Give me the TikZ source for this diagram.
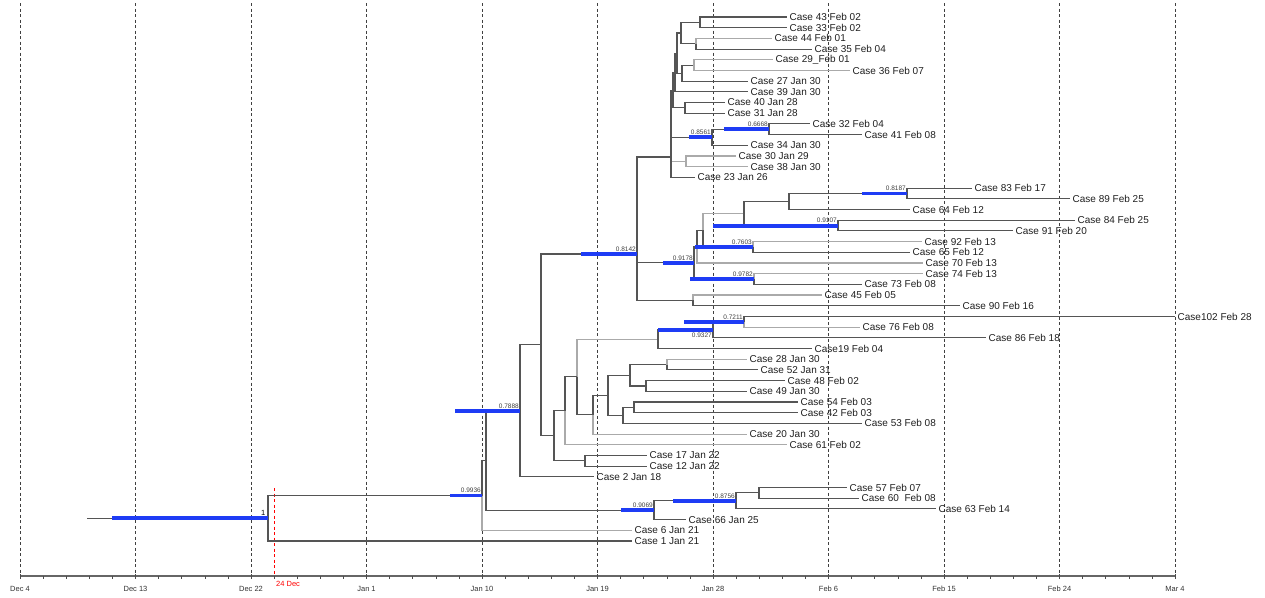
\documentclass[tikz,border=0pt]{standalone}
\usepackage{fontspec}
\setmainfont{Liberation Sans}
\definecolor{hpdblue}{RGB}{30,60,245}
\definecolor{brdark}{RGB}{85,85,85}
\definecolor{brlight}{RGB}{170,170,170}
\newcommand\leafnode[6][dk]{\node[lab] (#2) at (#5,{17+10.694*#4}) {#6};\draw[#1] (#3) |- (#2.west);}
\newcommand\tbranch[3][dk]{\draw[#1] (#2) |- (#3);}
\newcommand\hpdbar[3]{\draw[hpd] (#1) -- ++(-#2,0);\node[pp,anchor=south east] at ([xshift=-0.5pt,yshift=2pt]#1) {#3};}
\begin{document}
\begin{tikzpicture}[x=1pt,y=-1pt,
  dk/.style={draw=brdark, line width=1.1pt},
  lt/.style={draw=brlight, line width=1.1pt},
  hpd/.style={draw=hpdblue, line width=3.8pt},
  lab/.style={anchor=west, inner sep=2.5pt, font=\fontsize{10}{12}\selectfont, text=black!88},
  pp/.style={font=\fontsize{6.5}{7}\selectfont, text=black!75, inner sep=0.5pt},
  gridline/.style={draw=black!75, line width=0.8pt, dash pattern=on 3pt off 2.5pt},
  axl/.style={font=\fontsize{7.5}{8}\selectfont, text=black!80, inner sep=0pt}]
\useasboundingbox (0,0) rectangle (1265,597);
% grid lines
\foreach \k in {0,...,10} \draw[gridline] ({20+115.5*\k},3) -- ({20+115.5*\k},576);
\draw[red, line width=0.8pt, dash pattern=on 3pt off 2.5pt] (274,488) -- (274,576);
% axis
\draw[black!60, line width=1.8pt] (20,576) -- (1175,576);
\foreach \m in {0,...,50} \draw[black!70, line width=0.6pt] ({20+23.1*\m},576) -- ++(0,2.5);
\foreach \k in {0,...,10} \draw[black!70, line width=0.8pt] ({20+115.5*\k},574) -- ++(0,4.5);
\foreach \k/\t in {0/Dec 4,1/Dec 13,2/Dec 22,3/Jan 1,4/Jan 10,5/Jan 19,6/Jan 28,7/Feb 6,8/Feb 15,9/Feb 24,10/Mar 4}
  \node[axl] at ({20+115.5*\k},589) {\t};
\node[axl, text=red, anchor=west] at (276,584) {24 Dec};
% internal nodes
\coordinate (stub) at (87,518.2);
\coordinate (root) at (268,518.2);
\coordinate (A) at (482,495.5);
\coordinate (B) at (486,460.6);
\coordinate (C) at (520,410.9);
\coordinate (D) at (541,344.9);
\coordinate (E) at (637,254);
\coordinate (nG) at (671,157);
\coordinate (nF) at (673,90.2);
\coordinate (nD) at (675,72.5);
\coordinate (nC) at (677,53.1);
\coordinate (nA) at (681,33);
\coordinate (n4333) at (700,22.3);
\coordinate (n4435) at (696,43.7);
\coordinate (nB) at (682,73.2);
\coordinate (n2936) at (694,65.1);
\coordinate (nE) at (685,107.9);
\coordinate (n8561) at (712,137.2);
\coordinate (n6668) at (769,129.3);
\coordinate (n3038) at (686,161.3);
\coordinate (H) at (694,262.8);
\coordinate (N) at (697,246.6);
\coordinate (M) at (703,230.2);
\coordinate (L) at (744,213.5);
\coordinate (K) at (789,201.5);
\coordinate (n8187) at (907,193.4);
\coordinate (n9107) at (838,225.6);
\coordinate (n7603) at (753,247);
\coordinate (n9782) at (754,279);
\coordinate (n4590) at (693,300.4);
\coordinate (F) at (554,435.8);
\coordinate (P) at (565,410.8);
\coordinate (Q) at (577,376.9);
\coordinate (R) at (658,339.1);
\coordinate (n9327) at (713,329.8);
\coordinate (n7211) at (744,321.8);
\coordinate (S) at (593,414.7);
\coordinate (T) at (608,395.3);
\coordinate (U) at (630,375.3);
\coordinate (V) at (623,415.4);
\coordinate (n2852) at (667,364.6);
\coordinate (n4849) at (646,386);
\coordinate (n5442) at (634,407.4);
\coordinate (n1712) at (585,460.8);
\coordinate (n9069) at (654,510.3);
\coordinate (n8756) at (736,500.9);
\coordinate (n5760) at (759,492.9);
% light internal branches first
\tbranch[lt]{M}{L}
\tbranch[lt]{Q}{R}
\tbranch[lt]{nG}{n3038}
% internal branches
\draw[dk] (stub) -- (root);
\tbranch{root}{A}
\tbranch{A}{B}
\tbranch{B}{C}
\tbranch{B}{n9069}
\tbranch{C}{D}
\tbranch{D}{E}
\tbranch{D}{F}
\tbranch{E}{nG}
\tbranch{E}{H}
\tbranch{E}{n4590}
\tbranch{nG}{nF}
\tbranch{nG}{n8561}
\tbranch{nF}{nD}
\tbranch{nF}{nE}
\tbranch{nD}{nC}
\tbranch{nC}{nA}
\tbranch{nC}{nB}
\tbranch{nA}{n4333}
\tbranch{nA}{n4435}
\tbranch{nB}{n2936}
\tbranch{n8561}{n6668}
\tbranch{H}{N}
\tbranch{H}{n9782}
\tbranch{N}{M}
\tbranch{M}{n7603}
\tbranch{L}{K}
\tbranch{L}{n9107}
\tbranch{K}{n8187}
\tbranch{F}{P}
\tbranch{F}{n1712}
\tbranch{P}{Q}
\tbranch{Q}{S}
\tbranch{R}{n9327}
\tbranch{n9327}{n7211}
\tbranch{S}{T}
\tbranch{T}{U}
\tbranch{T}{V}
\tbranch{U}{n2852}
\tbranch{U}{n4849}
\tbranch{V}{n5442}
\tbranch{n9069}{n8756}
\tbranch{n8756}{n5760}
% leaves
\leafnode{c43}{n4333}{0}{787}{Case 43 Feb 02}
\leafnode{c33}{n4333}{1}{787}{Case 33 Feb 02}
\leafnode[lt]{c44}{n4435}{2}{772}{Case 44 Feb 01}
\leafnode{c35}{n4435}{3}{812}{Case 35 Feb 04}
\leafnode[lt]{c29}{n2936}{4}{773}{Case 29\_Feb 01}
\leafnode[lt]{c36}{n2936}{5}{850}{Case 36 Feb 07}
\leafnode{c27}{nB}{6}{748}{Case 27 Jan 30}
\leafnode{c39}{nD}{7}{748}{Case 39 Jan 30}
\leafnode{c40}{nE}{8}{725}{Case 40 Jan 28}
\leafnode{c31}{nE}{9}{725}{Case 31 Jan 28}
\leafnode{c32}{n6668}{10}{810}{Case 32 Feb 04}
\leafnode{c41}{n6668}{11}{862}{Case 41 Feb 08}
\leafnode{c34}{n8561}{12}{748}{Case 34 Jan 30}
\leafnode[lt]{c30}{n3038}{13}{736}{Case 30 Jan 29}
\leafnode[lt]{c38}{n3038}{14}{748}{Case 38 Jan 30}
\leafnode{c23}{nG}{15}{695}{Case 23 Jan 26}
\leafnode{c83}{n8187}{16}{972}{Case 83 Feb 17}
\leafnode{c89}{n8187}{17}{1070}{Case 89 Feb 25}
\leafnode{c64}{K}{18}{910}{Case 64 Feb 12}
\leafnode{c84}{n9107}{19}{1075}{Case 84 Feb 25}
\leafnode{c91}{n9107}{20}{1013}{Case 91 Feb 20}
\leafnode[lt]{c92}{n7603}{21}{922}{Case 92 Feb 13}
\leafnode{c65}{n7603}{22}{910}{Case 65 Feb 12}
\leafnode[lt]{c70}{N}{23}{923}{Case 70 Feb 13}
\leafnode[lt]{c74}{n9782}{24}{923}{Case 74 Feb 13}
\leafnode{c73}{n9782}{25}{862}{Case 73 Feb 08}
\leafnode[lt]{c45}{n4590}{26}{822}{Case 45 Feb 05}
\leafnode{c90}{n4590}{27}{960}{Case 90 Feb 16}
\leafnode{c102}{n7211}{28}{1175}{Case102 Feb 28}
\leafnode[lt]{c76}{n7211}{29}{860}{Case 76 Feb 08}
\leafnode{c86}{n9327}{30}{986}{Case 86 Feb 18}
\leafnode{c19}{R}{31}{812}{Case19 Feb 04}
\leafnode[lt]{c28}{n2852}{32}{747}{Case 28 Jan 30}
\leafnode{c52}{n2852}{33}{758}{Case 52 Jan 31}
\leafnode{c48}{n4849}{34}{785}{Case 48 Feb 02}
\leafnode{c49}{n4849}{35}{747}{Case 49 Jan 30}
\leafnode{c54}{n5442}{36}{798}{Case 54 Feb 03}
\leafnode{c42}{n5442}{37}{798}{Case 42 Feb 03}
\leafnode{c53}{V}{38}{862}{Case 53 Feb 08}
\leafnode[lt]{c20}{S}{39}{747}{Case 20 Jan 30}
\leafnode[lt]{c61}{P}{40}{787}{Case 61 Feb 02}
\leafnode{c17}{n1712}{41}{647}{Case 17 Jan 22}
\leafnode{c12}{n1712}{42}{647}{Case 12 Jan 22}
\leafnode{c2}{C}{43}{594}{Case 2 Jan 18}
\leafnode{c57}{n5760}{44}{847}{Case 57 Feb 07}
\leafnode{c60}{n5760}{45}{859}{Case 60 \ Feb 08}
\leafnode{c63}{n8756}{46}{936}{Case 63 Feb 14}
\leafnode{c66}{n9069}{47}{686}{Case 66 Jan 25}
\leafnode[lt]{c6}{A}{48}{632}{Case 6 Jan 21}
\leafnode{c1}{root}{49}{632}{Case 1 Jan 21}
% HPD bars and posterior labels
\draw[hpd] (root) -- ++(-156,0);
\node[pp, font=\fontsize{7.5}{8}\selectfont, text=black, anchor=south east] at ([xshift=-2pt,yshift=2.5pt]root) {1};
\hpdbar{A}{32}{0.9936}
\hpdbar{C}{65}{0.7888}
\hpdbar{E}{56}{0.8142}
\hpdbar{H}{31}{0.9178}
\hpdbar{n7603}{58}{0.7603}
\hpdbar{n9782}{64}{0.9782}
\hpdbar{n9107}{125}{0.9107}
\hpdbar{n8187}{45}{0.8187}
\hpdbar{n8561}{23}{0.8561}
\hpdbar{n6668}{45}{0.6668}
\hpdbar{n7211}{60}{0.7211}
\draw[hpd] (n9327) -- ++(-55,0);
\node[pp, anchor=north east] at ([xshift=-0.5pt,yshift=-2.5pt]n9327) {0.9327};
\hpdbar{n9069}{33}{0.9069}
\hpdbar{n8756}{63}{0.8756}
\end{tikzpicture}
\end{document}
